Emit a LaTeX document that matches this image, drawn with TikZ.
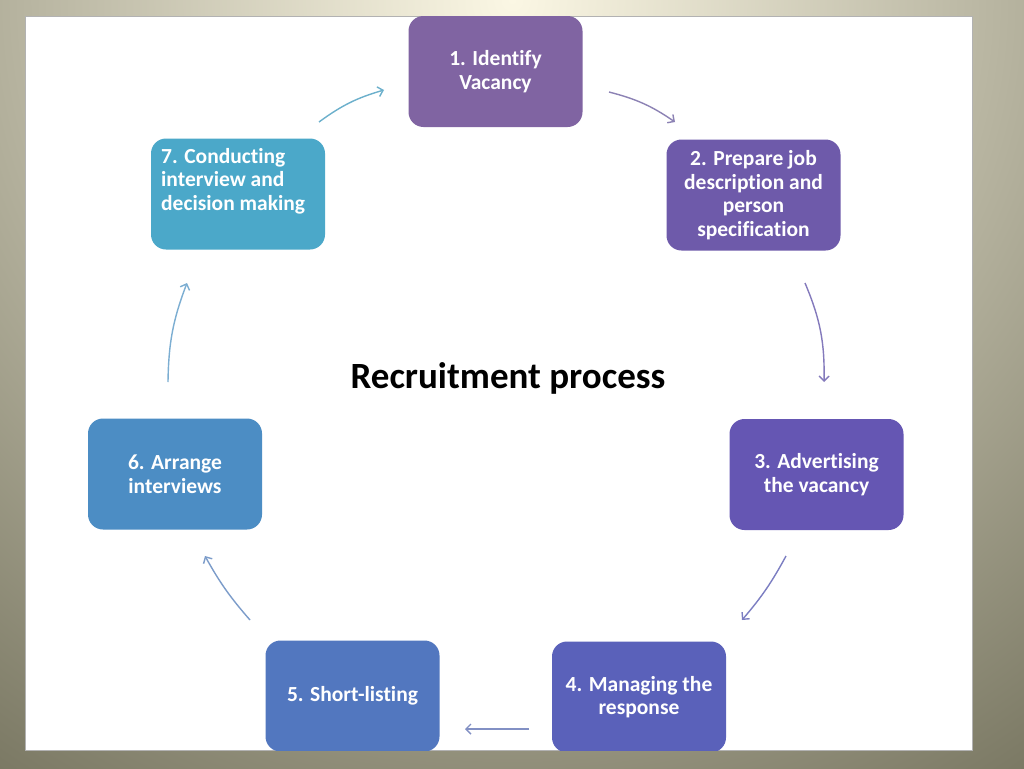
\documentclass[tikz,border=0pt]{standalone}
\usepackage{fontspec}
\setmainfont[Ligatures=NoCommon]{Carlito}
\usetikzlibrary{arrows.meta}
\definecolor{bginner}{HTML}{FBF7E4}
\definecolor{bgouter}{HTML}{76745F}
\definecolor{cA}{HTML}{8064A2}
\definecolor{cB}{HTML}{6E5AAA}
\definecolor{cC}{HTML}{6556B3}
\definecolor{cD}{HTML}{5A61BA}
\definecolor{cE}{HTML}{5277BF}
\definecolor{cF}{HTML}{4C8DC4}
\definecolor{cG}{HTML}{4BA8C9}
\definecolor{aA}{HTML}{8C82B4}
\definecolor{aB}{HTML}{847ABC}
\definecolor{aC}{HTML}{7C7EC2}
\definecolor{aD}{HTML}{8290C4}
\definecolor{aE}{HTML}{7C9CCA}
\definecolor{aF}{HTML}{7CAED2}
\definecolor{aG}{HTML}{6CB0CC}
\tikzset{
  x=1pt, y=-1pt,
  boxfont/.style={font=\fontsize{21.5}{23.5}\selectfont\bfseries},
  stepbox/.style={rounded corners=15pt, minimum width=174pt, minimum height=111pt,
    text=white, boxfont, align=center, inner sep=2pt},
  cyc/.style={line width=1.4pt, -{Straight Barb[length=5pt,width=10pt,line width=1.4pt]}},
}
\begin{document}
\begin{tikzpicture}
\useasboundingbox (0,0) rectangle (1024,768);
\begin{scope}
  \clip (0,0) rectangle (1024,768);
  \shade[inner color=bginner, outer color=bgouter] (-450,-960) rectangle (1474,960);
\end{scope}
\fill[gray!60] (25,16) rectangle (973,751);
\fill[white] (26,17) rectangle (972,750);
\begin{scope}
  \clip (26,17) rectangle (972,750);
  \node[stepbox, fill=cA] (n1) at (495.5,71.5) {1. Identify\\Vacancy};
  \node[stepbox, fill=cB] (n2) at (753.5,195) {2. Prepare job\\description and\\person\\specification};
  \node[stepbox, fill=cC] (n3) at (816.5,474.5) {3. Advertising\\the vacancy};
  \node[stepbox, fill=cD] (n4) at (639,697) {4. Managing the\\response};
  \node[stepbox, fill=cE] (n5) at (352.5,696) {5. Short-listing};
  \node[stepbox, fill=cF] (n6) at (175,474) {6. Arrange\\interviews};
  \node[stepbox, fill=cG] (n7) at (238,194) {};
  \node[text=white, boxfont, align=left, anchor=north west, inner sep=0pt]
    (t7) at (161,148) {7. Conducting\\interview and\\decision making};
\end{scope}
\node[font=\fontsize{37}{42}\selectfont\bfseries, text=black] (title) at (508,378) {Recruitment process};
\coordinate (a1s) at (609,92);  \coordinate (a1e) at (675,122);
\coordinate (a2s) at (805,283); \coordinate (a2e) at (824,382);
\coordinate (a3s) at (786,556); \coordinate (a3e) at (742,620);
\coordinate (a4s) at (529,729); \coordinate (a4e) at (465,729);
\coordinate (a5s) at (250,620); \coordinate (a5e) at (205,556);
\coordinate (a6s) at (168,382); \coordinate (a6e) at (187,283);
\coordinate (a7s) at (319,122); \coordinate (a7e) at (384,90);
\draw[cyc, aA] (a1s) to[bend left=10] (a1e);
\draw[cyc, aB] (a2s) to[bend left=12] (a2e);
\draw[cyc, aC] (a3s) to[bend left=6] (a3e);
\draw[cyc, aD] (a4s) to (a4e);
\draw[cyc, aE] (a5s) to[bend left=6] (a5e);
\draw[cyc, aF] (a6s) to[bend left=10] (a6e);
\draw[cyc, aG] (a7s) to[bend left=10] (a7e);
\end{tikzpicture}
\end{document}
